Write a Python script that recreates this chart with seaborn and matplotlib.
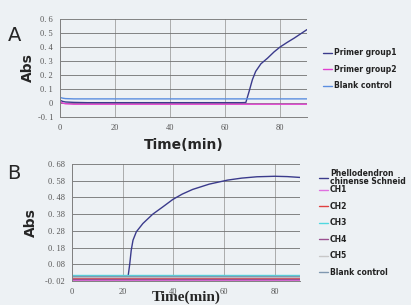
import numpy as np
import pandas as pd
import matplotlib.pyplot as plt
import seaborn as sns

sns.set_theme(style="whitegrid")

# Panel A data
tA = [0, 1, 2, 5, 10, 20, 30, 40, 50, 60, 66, 67.7, 68.9, 70.1, 71.3, 73.2,
      75.6, 78, 80.2, 82.8, 85.4, 87.7, 90]
primer1 = [0.02, 0.012, 0.008, 0.005, 0.003, 0.003, 0.003, 0.003, 0.003, 0.003,
           0.003, 0.004, 0.083, 0.167, 0.226, 0.28, 0.32, 0.365, 0.40, 0.433,
           0.464, 0.494, 0.524]
tA_flat = [0, 1, 2, 5, 10, 90]
primer2 = [0.01, 0.0, -0.005, -0.008, -0.008, -0.008]
blankA = [0.04, 0.035, 0.032, 0.03, 0.03, 0.03]
namesA = ["Primer group1", "Primer group2", "Blank control"]
colorsA = ["#3b3b8c", "#e040d0", "#5b8ee0"]

# Panel B data
tB = [0, 5, 10, 15, 20, 22.1, 22.8, 23.4, 24.1, 25.4, 28.0, 31.9, 35.9, 39.8,
      43.5, 47.6, 54.2, 61.4, 67, 73, 80, 85, 90]
phello = [-0.004, -0.004, -0.003, -0.003, -0.002, 0.0, 0.08, 0.164, 0.224,
          0.274, 0.324, 0.38, 0.424, 0.468, 0.50, 0.528, 0.56, 0.584, 0.596,
          0.604, 0.607, 0.605, 0.60]
tB_flat = [0, 90]
ch1 = [-0.012, -0.012]
ch2 = [-0.004, -0.004]
ch3 = [0.014, 0.014]
ch4 = [-0.008, -0.008]
ch5 = [0.004, 0.004]
blankB = [0.009, 0.009]
namesB = ["Phellodendron\nchinense Schneid", "CH1", "CH2", "CH3", "CH4", "CH5",
          "Blank control"]
colorsB = ["#3b3b8c", "#e070e0", "#e04040", "#50d8e0", "#9a5090", "#c8c8c8",
           "#8098b0"]

bg = "#edf1f4"
fig = plt.figure(figsize=(4.11, 3.05), dpi=100, facecolor=bg)
axA = fig.add_axes([0.146, 0.616, 0.601, 0.322], facecolor=bg)
axB = fig.add_axes([0.175, 0.079, 0.555, 0.383], facecolor=bg)

dfA = pd.concat([
    pd.DataFrame({"t": tA, "abs": primer1, "s": namesA[0]}),
    pd.DataFrame({"t": tA_flat, "abs": primer2, "s": namesA[1]}),
    pd.DataFrame({"t": tA_flat, "abs": blankA, "s": namesA[2]}),
])
sns.lineplot(data=dfA, x="t", y="abs", hue="s", palette=colorsA,
             hue_order=namesA, ax=axA, linewidth=1.0, legend=False)

seriesB = [(tB, phello)] + [(tB_flat, v) for v in [ch1, ch2, ch3, ch4, ch5, blankB]]
dfB = pd.concat([pd.DataFrame({"t": t, "abs": v, "s": n})
                 for (t, v), n in zip(seriesB, namesB)])
sns.lineplot(data=dfB, x="t", y="abs", hue="s", palette=colorsB,
             hue_order=namesB, ax=axB, linewidth=1.0, legend=False)

tickfont = "Liberation Serif"
for ax in (axA, axB):
    ax.set_xlim(0, 90)
    ax.set_xticks([0, 20, 40, 60, 80])
    ax.grid(axis="x", color="#a0a0a0", linewidth=0.6)
    ax.grid(axis="y", color="#707070", linewidth=0.6)
    ax.tick_params(length=0, pad=5, labelsize=6, labelcolor="#555555")
    for s in ["top", "right"]:
        ax.spines[s].set_visible(False)
    for s in ["left", "bottom"]:
        ax.spines[s].set_color("#808080")
        ax.spines[s].set_linewidth(0.7)

yA = [-0.1, 0, 0.1, 0.2, 0.3, 0.4, 0.5, 0.6]
axA.set_ylim(-0.1, 0.6)
axA.set_yticks(yA)
axA.set_yticklabels(["-0. 1", "0", "0. 1", "0. 2", "0. 3", "0. 4", "0. 5", "0. 6"],
                    fontfamily=tickfont)
axA.set_xticklabels(["0", "20", "40", "60", "80"], fontfamily=tickfont)
axA.set_xlabel("Time(min)", fontsize=10, fontweight="bold", labelpad=4)
axA.set_ylabel("Abs", fontsize=10, fontweight="bold")
axA.yaxis.set_label_coords(-0.10, 0.5)

yB = [-0.02, 0.08, 0.18, 0.28, 0.38, 0.48, 0.58, 0.68]
axB.set_ylim(-0.02, 0.68)
axB.set_yticks(yB)
axB.set_yticklabels(["-0. 02", "0. 08", "0. 18", "0. 28", "0. 38", "0. 48",
                     "0. 58", "0. 68"], fontfamily=tickfont)
axB.set_xticklabels(["0", "20", "40", "60", "80"], fontfamily=tickfont)
axB.set_xlabel("Time(min)", fontsize=11, fontweight="bold",
               fontfamily="Liberation Serif", labelpad=-4)
axB.set_ylabel("Abs", fontsize=10, fontweight="bold")
axB.yaxis.set_label_coords(-0.15, 0.5)

fig.text(0.018, 0.882, "A", fontsize=14, va="center")
fig.text(0.018, 0.43, "B", fontsize=14, va="center")

legkw = dict(loc="upper left", frameon=False, handlelength=1.2,
             handletextpad=0.3, borderaxespad=0, borderpad=0,
             prop={"size": 5.5, "weight": "bold"}, labelcolor="#222222")

hA = [plt.Line2D([], [], color=c, linewidth=1.0) for c in colorsA]
fig.legend(hA, namesA, bbox_to_anchor=(0.785, 0.842), labelspacing=1.0, **legkw)

hB = [plt.Line2D([], [], color=c, linewidth=1.0) for c in colorsB]
legB1 = fig.legend(hB[:1], namesB[:1], bbox_to_anchor=(0.775, 0.447), **legkw)
for t in legB1.get_texts():
    t.set_linespacing(0.9)
fig.legend(hB[1:], namesB[1:], bbox_to_anchor=(0.775, 0.392),
           labelspacing=0.98, **legkw)

fig.savefig("out.png", dpi=100, facecolor=bg)
